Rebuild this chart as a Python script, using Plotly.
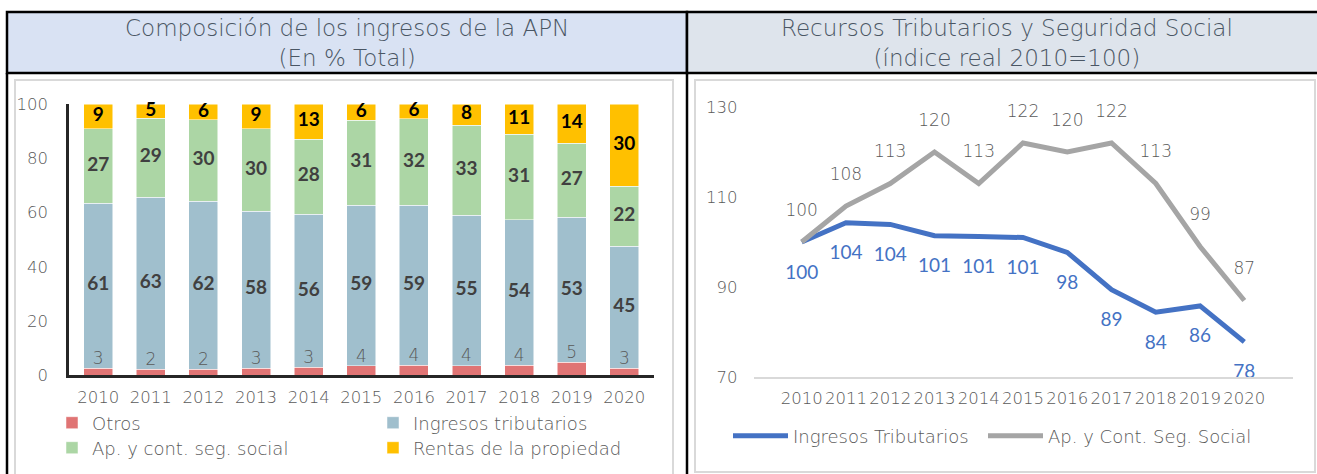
import plotly.graph_objects as go

W, H = 1317, 474

# ---------------- data ----------------
years = ["2010", "2011", "2012", "2013", "2014", "2015", "2016", "2017", "2018", "2019", "2020"]

otros = [2.6, 2.3, 2.2, 2.6, 2.9, 3.5, 3.7, 3.6, 3.7, 4.8, 2.6]
ingresos_trib = [60.9, 63.4, 62.0, 57.9, 56.4, 59.2, 58.9, 55.4, 53.7, 53.4, 44.9]
ap_seg_social = [27.3, 29.1, 30.0, 30.3, 27.8, 31.4, 31.9, 33.2, 31.4, 27.4, 22.1]
rentas_prop = [9.2, 5.2, 5.8, 9.2, 12.9, 5.9, 5.5, 7.8, 11.2, 14.4, 30.4]

idx_trib = [100, 104.3, 103.9, 101.4, 101.2, 101.0, 97.7, 89.4, 84.4, 85.8, 77.8]
idx_seg = [100, 108, 113, 120, 113, 122, 120, 122, 113, 99, 87]

title_left = "Composición de los ingresos de la APN<br>(En % Total)"
title_right = "Recursos Tributarios y Seguridad Social<br>(índice real 2010=100)"

FONT = "Lato"
WIDE = "DejaVu Sans"
GRAY_TXT = "#595959"


def px(x):
    return x / W


def py(y):
    return 1 - y / H


fig = go.Figure()

# ---------------- stacked bars ----------------
bar_specs = [
    ("Otros", otros, "#E07474", "legend", None),
    ("Ingresos tributarios", ingresos_trib, "#A0BFCD", "legend", "#404040"),
    ("Ap. y cont. seg. social", ap_seg_social, "#ACD6A5", "legend2", "#404040"),
    ("Rentas de la propiedad", rentas_prop, "#FFC000", "legend2", "#000000"),
]
for name, vals, col, leg, tcol in bar_specs:
    fig.add_trace(
        go.Bar(
            x=years, y=vals, name=name, marker=dict(color=col, line=dict(width=0.5, color="white")),
            legend=leg, xaxis="x", yaxis="y",
        )
    )

# segment labels, centred in each stacked segment
base = [0.0] * len(years)
for name, vals, col, leg, tcol in bar_specs:
    mids = [b + v / 2 for b, v in zip(base, vals)]
    if tcol is None:
        # "Otros": label sits just above the red segment
        fig.add_trace(
            go.Scatter(
                x=years, y=vals, mode="text", text=[f"{v:.0f}" for v in vals],
                textposition="top center",
                textfont=dict(family=WIDE, size=17, color=GRAY_TXT, weight=200),
                showlegend=False, xaxis="x", yaxis="y", hoverinfo="skip", cliponaxis=False,
            )
        )
    else:
        fig.add_trace(
            go.Scatter(
                x=years, y=mids, mode="text", text=[f"{v:.0f}" for v in vals],
                textposition="middle center",
                textfont=dict(family=FONT, size=19, color=tcol, weight="bold"),
                showlegend=False, xaxis="x", yaxis="y", hoverinfo="skip", cliponaxis=False,
            )
        )
    base = [b + v for b, v in zip(base, vals)]

# ---------------- lines ----------------
line_specs = [
    ("Ingresos Tributarios", idx_trib, "#4472C4", "#4472C4", "bottom center",
     dict(family=FONT, size=19, weight=400), "legend3"),
    ("Ap. y Cont. Seg. Social", idx_seg, "#A5A5A5", GRAY_TXT, "top center",
     dict(family=WIDE, size=17, weight=200), "legend4"),
]
for name, vals, col, tcol, tpos, tf, leg in line_specs:
    fig.add_trace(
        go.Scatter(
            x=years, y=vals, name=name, mode="lines",
            line=dict(color=col, width=5),
            legend=leg, xaxis="x2", yaxis="y2",
        )
    )
for name, vals, col, tcol, tpos, tf, leg in line_specs:
    fig.add_trace(
        go.Scatter(
            x=years, y=vals, mode="markers+text", showlegend=False, hoverinfo="skip",
            marker=dict(size=34, opacity=0, color=col),
            text=[f"{v:.0f}" for v in vals], textposition=tpos,
            textfont=dict(color=tcol, **tf),
            cliponaxis=False, xaxis="x2", yaxis="y2",
        )
    )

# ---------------- frame shapes ----------------
P = dict(xref="paper", yref="paper")
shapes = [
    dict(type="rect", x0=px(15), x1=px(673), y0=py(80), y1=py(490),
         line=dict(color="#D9D9D9", width=2), fillcolor="white", layer="below", **P),
    dict(type="rect", x0=px(695), x1=px(1315), y0=py(80), y1=py(472),
         line=dict(color="#D9D9D9", width=2), fillcolor="white", layer="below", **P),
    dict(type="rect", x0=px(7), x1=px(687), y0=py(12), y1=py(73),
         line=dict(color="black", width=2.5), fillcolor="#D9E2F3", layer="below", **P),
    dict(type="rect", x0=px(687), x1=px(1330), y0=py(12), y1=py(73),
         line=dict(color="black", width=2.5), fillcolor="#DEE4EC", layer="below", **P),
    dict(type="line", x0=px(7), x1=px(7), y0=py(73), y1=py(480),
         line=dict(color="black", width=2.5), **P),
    dict(type="line", x0=px(687), x1=px(687), y0=py(73), y1=py(480),
         line=dict(color="black", width=2.5), **P),
]

annotations = [
    dict(text=title_left, x=px(347), y=py(43), xref="paper", yref="paper", showarrow=False,
         font=dict(family=WIDE, size=23, color="#4A5664", weight=200),
         xanchor="center", yanchor="middle"),
    dict(text=title_right, x=px(1007), y=py(43), xref="paper", yref="paper", showarrow=False,
         font=dict(family=WIDE, size=23, color="#4A5664", weight=200),
         xanchor="center", yanchor="middle"),
]

legend_common = dict(
    orientation="h", xref="paper", yref="paper", xanchor="left", yanchor="middle",
    font=dict(family=WIDE, size=18, color=GRAY_TXT, weight=200), bgcolor="rgba(0,0,0,0)",
    entrywidthmode="pixels", itemclick=False, itemdoubleclick=False, traceorder="normal",
)

xtickf = dict(family=WIDE, size=16.5, color=GRAY_TXT, weight=200)
ytickf = dict(family=WIDE, size=16.5, color=GRAY_TXT, weight=200)
fig.update_layout(
    width=W, height=H,
    margin=dict(l=0, r=0, t=0, b=0, autoexpand=False),
    paper_bgcolor="white", plot_bgcolor="rgba(0,0,0,0)",
    barmode="stack", bargap=0.45,
    font=dict(family=WIDE, color=GRAY_TXT),
    shapes=shapes, annotations=annotations,
    xaxis=dict(domain=[px(69), px(653.6)], anchor="y", showgrid=False, automargin=False,
               showline=True, linecolor="#262626", linewidth=2.5, tickangle=0,
               tickfont=xtickf, ticklabelstandoff=5, fixedrange=True),
    yaxis=dict(domain=[py(375.3), py(104)], anchor="x", range=[0, 100], dtick=20, tick0=0,
               showgrid=False, zeroline=False, showline=True, linecolor="#262626", linewidth=2.5,
               automargin=False, tickfont=ytickf, ticklabelstandoff=15, fixedrange=True),
    xaxis2=dict(domain=[px(753.5), px(1292.5)], anchor="y2", showgrid=False, automargin=False,
                showline=True, linecolor="#D9D9D9", linewidth=1.5, tickangle=0,
                tickfont=xtickf, ticklabelstandoff=5, fixedrange=True),
    yaxis2=dict(domain=[py(377), py(107)], anchor="x2", range=[70, 130], dtick=20, tick0=70,
                showgrid=False, zeroline=False, showline=False, automargin=False,
                tickfont=ytickf, ticklabelstandoff=15, fixedrange=True),
    legend=dict(x=px(52), y=py(423), entrywidth=276, **legend_common),
    legend2=dict(x=px(52), y=py(448), entrywidth=276, **legend_common),
    legend3=dict(x=px(728), y=py(436), itemwidth=55, **legend_common),
    legend4=dict(x=px(983), y=py(436), itemwidth=55, **legend_common),
)

fig.write_html("out.html", post_script="document.body.style.margin='0';",
               config={"displayModeBar": False})
